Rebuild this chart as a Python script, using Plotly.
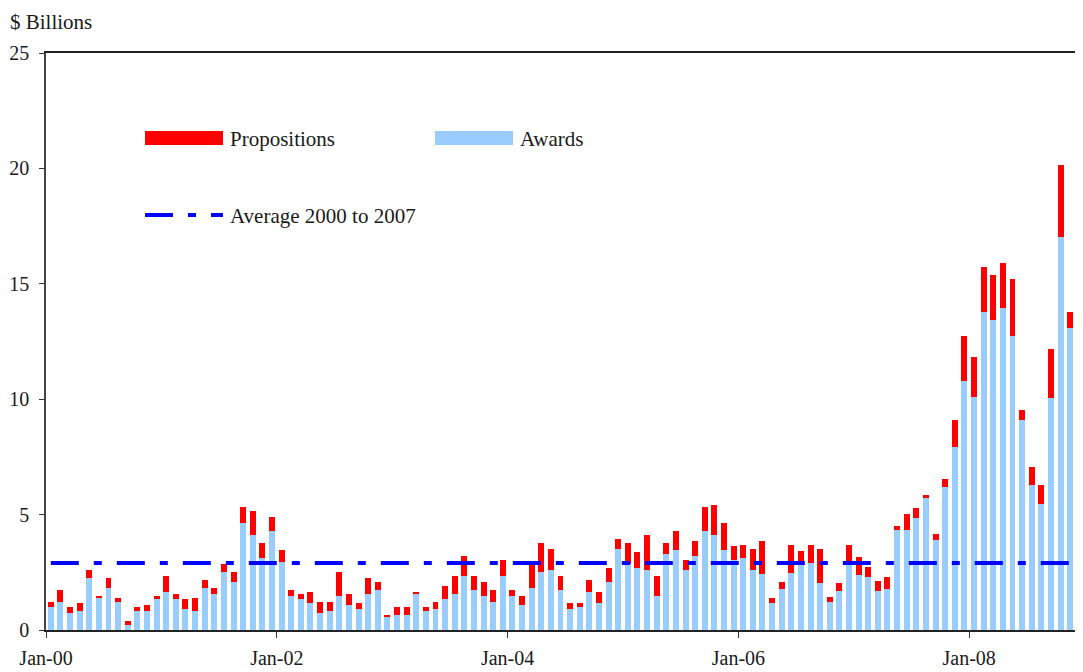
import pandas as pd
import plotly.graph_objects as go

months = pd.date_range("2000-01-01", periods=107, freq="MS").strftime("%b-%y").tolist()

awards = [1.01, 1.23, 0.75, 0.84, 2.27, 1.40, 1.83, 1.23, 0.23, 0.84, 0.84, 1.36,
          1.66, 1.36, 0.92, 0.84, 1.83, 1.57, 2.53, 2.09, 4.65, 4.13, 3.13, 4.30,
          2.96, 1.49, 1.36, 1.18, 0.75, 0.84, 1.49, 1.10, 0.92, 1.57, 1.75, 0.58,
          0.66, 0.66, 1.57, 0.84, 0.92, 1.36, 1.57, 2.35, 1.75, 1.49, 1.23, 2.35,
          1.49, 1.10, 1.83, 2.53, 2.61, 1.75, 0.92, 1.01, 1.66, 1.18, 2.09, 3.52,
          2.87, 2.70, 2.61, 1.49, 3.31, 3.48, 2.61, 3.22, 4.30, 4.13, 3.48, 3.05,
          3.13, 2.61, 2.44, 1.18, 1.77, 2.47, 2.82, 2.90, 2.04, 1.21, 1.69, 2.82,
          2.38, 2.30, 1.69, 1.78, 4.33, 4.33, 4.85, 5.72, 3.90, 6.20, 7.93, 10.79,
          10.10, 13.78, 13.43, 13.95, 12.74, 9.10, 6.28, 5.46, 10.05, 17.03, 13.08]

propositions = [0.22, 0.52, 0.26, 0.34, 0.34, 0.09, 0.44, 0.17, 0.17, 0.17, 0.26, 0.13,
                0.69, 0.21, 0.44, 0.56, 0.35, 0.26, 0.34, 0.44, 0.69, 1.04, 0.65, 0.61,
                0.52, 0.26, 0.21, 0.48, 0.48, 0.39, 1.04, 0.47, 0.26, 0.70, 0.34, 0.08,
                0.35, 0.35, 0.09, 0.17, 0.31, 0.56, 0.78, 0.87, 0.60, 0.60, 0.52, 0.70,
                0.26, 0.39, 1.04, 1.25, 0.91, 0.60, 0.26, 0.17, 0.52, 0.48, 0.61, 0.44,
                0.91, 0.69, 1.52, 0.86, 0.47, 0.82, 0.44, 0.65, 1.04, 1.30, 1.17, 0.60,
                0.57, 0.91, 1.43, 0.22, 0.33, 1.21, 0.60, 0.78, 1.47, 0.22, 0.35, 0.86,
                0.78, 0.43, 0.43, 0.52, 0.18, 0.70, 0.44, 0.13, 0.26, 0.34, 1.17, 1.95,
                1.73, 1.95, 1.95, 1.95, 2.47, 0.43, 0.78, 0.82, 2.13, 3.12, 0.70]

average_2000_2007 = 2.9

tick_labels = ["Jan-00", "Jan-02", "Jan-04", "Jan-06", "Jan-08"]
y_ticks = [0, 5, 10, 15, 20, 25]

RED = "#FF0000"
BLUE_LIGHT = "#99CCFF"
BLUE = "#0000FF"
FONT = "Liberation Serif"
TXT = "#1a1a1a"

xs = list(range(len(months)))
tickvals = [months.index(t) - 0.5 for t in tick_labels]

fig = go.Figure()
fig.add_trace(go.Bar(x=xs, y=awards, name="Awards", marker_color=BLUE_LIGHT,
                     marker_line_width=0, showlegend=False))
fig.add_trace(go.Bar(x=xs, y=propositions, name="Propositions", marker_color=RED,
                     marker_line_width=0, showlegend=False))
fig.add_trace(go.Scatter(x=xs, y=[average_2000_2007] * len(xs), mode="lines",
                         line=dict(color=BLUE, width=4, dash="28px,15px,8px,15px"),
                         showlegend=False, hoverinfo="skip"))

# page body has an 8px margin; keep the figure inside the viewport
OFF = 8
W, H = 1083 - 2 * OFF, 672 - OFF
L, R, T = 46 - OFF, 0, 53 - OFF
B = H - (630 - OFF)
pw, ph = W - L - R, H - T - B


def px(x):  # page pixel -> paper
    return (x - OFF - L) / pw


def py(y):
    return (H - B - (y - OFF)) / ph


shapes = [
    dict(type="rect", xref="paper", yref="paper", x0=px(145), x1=px(223), y0=py(145), y1=py(131),
         fillcolor=RED, line_width=0),
    dict(type="rect", xref="paper", yref="paper", x0=px(435), x1=px(513), y0=py(145), y1=py(131),
         fillcolor=BLUE_LIGHT, line_width=0),
    dict(type="line", xref="paper", yref="paper", x0=px(145), x1=px(223), y0=py(215), y1=py(215),
         line=dict(color=BLUE, width=4, dash="28px,15px,8px,15px")),
]

tf = dict(size=21, family=FONT, color=TXT)
annotations = [
    dict(text="Propositions", xref="paper", yref="paper", x=px(228), y=py(139),
         xanchor="left", yanchor="middle", showarrow=False, font=tf),
    dict(text="Awards", xref="paper", yref="paper", x=px(518), y=py(139),
         xanchor="left", yanchor="middle", showarrow=False, font=tf),
    dict(text="Average 2000 to 2007", xref="paper", yref="paper", x=px(228), y=py(216),
         xanchor="left", yanchor="middle", showarrow=False, font=tf),
    dict(text="$ Billions", xref="paper", yref="paper", x=px(8), y=py(22),
         xanchor="left", yanchor="middle", showarrow=False, font=tf),
]

fig.update_layout(
    width=W, height=H,
    margin=dict(l=L, r=R, t=T, b=B, autoexpand=False),
    paper_bgcolor="white", plot_bgcolor="white",
    barmode="stack", bargap=0.38,
    font=dict(family=FONT, size=20, color=TXT),
    shapes=shapes, annotations=annotations,
    xaxis=dict(range=[-0.5, len(months) - 0.5], tickmode="array", tickvals=tickvals,
               ticktext=tick_labels, ticks="outside", ticklen=6, tickcolor="#333",
               showline=True, linecolor="#222", linewidth=1.5, mirror=True,
               showgrid=False, zeroline=False, ticklabelstandoff=3, automargin=False),
    yaxis=dict(range=[0, 25], tickmode="array", tickvals=y_ticks, ticks="outside",
               ticklen=5, tickcolor="#333", showline=True, linecolor="#444", linewidth=1.5,
               showgrid=False, zeroline=False, ticklabelstandoff=6, automargin=False),
)

fig.write_html("out.html")
